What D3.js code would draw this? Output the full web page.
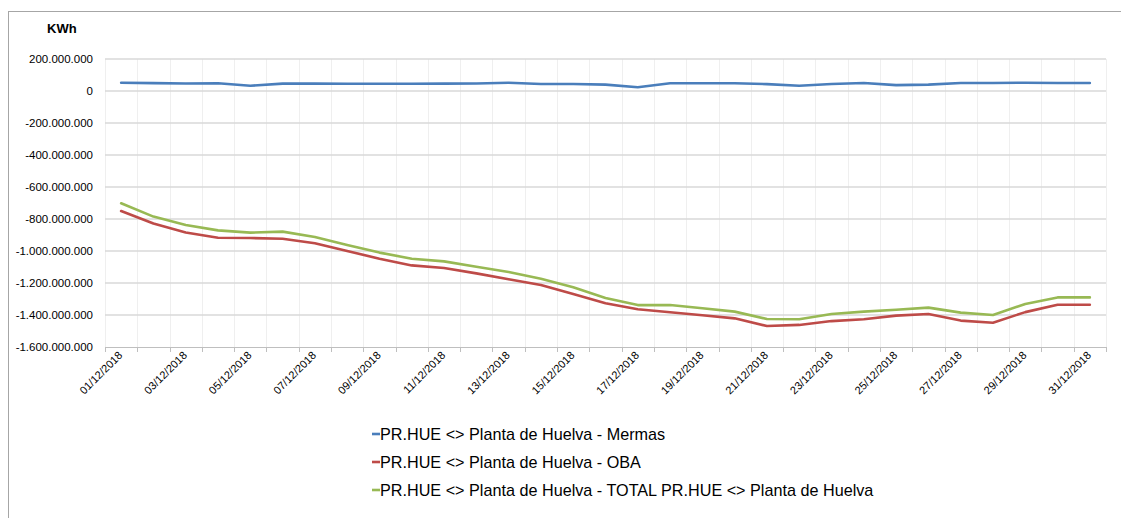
<!DOCTYPE html>
<html><head><meta charset="utf-8">
<script src="https://cdn.jsdelivr.net/npm/d3@7"></script>
<style>body{margin:0;background:#fff;} svg{display:block;font-family:"Liberation Sans",Arial,sans-serif;}</style>
</head><body>
<script>
const days = d3.range(1, 32).map(d => String(d).padStart(2, "0") + "/12/2018");
const mermas = [52e6,49e6,47e6,48e6,33e6,46e6,46e6,45e6,45e6,45e6,46e6,47e6,52e6,44e6,44e6,40e6,23e6,48e6,48e6,48e6,43e6,33e6,44e6,50e6,37e6,40e6,50e6,50e6,52e6,50e6,50e6];
const oba = [-750e6,-828e6,-884e6,-917e6,-919e6,-923e6,-952e6,-1000e6,-1048e6,-1090e6,-1106e6,-1140e6,-1177e6,-1213e6,-1269e6,-1327e6,-1364e6,-1383e6,-1402e6,-1421e6,-1469e6,-1462e6,-1438e6,-1427e6,-1404e6,-1394e6,-1435e6,-1448e6,-1382e6,-1336e6,-1336e6];
const total = [-702e6,-785e6,-838e6,-871e6,-885e6,-879e6,-913e6,-962e6,-1010e6,-1048e6,-1065e6,-1098e6,-1131e6,-1173e6,-1227e6,-1294e6,-1338e6,-1338e6,-1358e6,-1379e6,-1425e6,-1427e6,-1394e6,-1379e6,-1367e6,-1354e6,-1385e6,-1400e6,-1331e6,-1290e6,-1290e6];
const yTicks = [200e6,0,-200e6,-400e6,-600e6,-800e6,-1000e6,-1200e6,-1400e6,-1600e6];
const seriesNames = ["PR.HUE <> Planta de Huelva - Mermas","PR.HUE <> Planta de Huelva - OBA","PR.HUE <> Planta de Huelva - TOTAL PR.HUE <> Planta de Huelva"];
const colors = ["#4a7ebb","#be4b48","#98b954"];
const series = [mermas, oba, total];

const W = 1121, H = 518;
const svg = d3.select("body").append("svg").attr("width", W).attr("height", H);
svg.append("rect").attr("x", 8.5).attr("y", 11.5).attr("width", W).attr("height", H)
  .attr("fill", "none").attr("stroke", "#a6a6a6").attr("stroke-width", 1);

const x = d3.scaleBand().domain(days).range([105, 1106]);
const y = d3.scaleLinear().domain([-1600e6, 200e6]).range([347, 59]);
const fmt = v => d3.format(",")(v).replace(/,/g, ".").replace("−", "-");

// vertical gridlines at category boundaries
const bounds = days.map(d => x(d)).concat([x.range()[1]]);
svg.append("g").selectAll("line").data(bounds).join("line")
  .attr("x1", d => Math.round(d) + 0.5).attr("x2", d => Math.round(d) + 0.5)
  .attr("y1", 59).attr("y2", 347).attr("stroke", "#efefef").attr("stroke-width", 1);

// horizontal gridlines
svg.append("g").selectAll("line").data(yTicks.filter(v => v > -1600e6)).join("line")
  .attr("x1", 105).attr("x2", 1106).attr("y1", d => y(d)).attr("y2", d => y(d))
  .attr("stroke", "#d9d9d9").attr("stroke-width", 1.5);

// y axis labels
const ya = svg.append("g").attr("transform", "translate(105,0)")
  .call(d3.axisLeft(y).tickValues(yTicks).tickFormat(fmt).tickSize(0).tickPadding(12));
ya.select(".domain").remove();
ya.selectAll("text").attr("font-size", "11.5px").attr("fill", "#000").attr("font-family", "Liberation Sans, Arial, sans-serif");

// x axis line and ticks
svg.append("line").attr("x1", 105).attr("x2", 1106).attr("y1", 347.5).attr("y2", 347.5)
  .attr("stroke", "#bfbfbf").attr("stroke-width", 1.2);
svg.append("g").selectAll("line").data(bounds).join("line")
  .attr("x1", d => Math.round(d) + 0.5).attr("x2", d => Math.round(d) + 0.5)
  .attr("y1", 347).attr("y2", 352).attr("stroke", "#bfbfbf");

// x labels every other day
svg.append("g").selectAll("text").data(days.filter((d, i) => i % 2 === 0)).join("text")
  .attr("transform", d => `translate(${x(d) + x.bandwidth() / 2 + 2},${356}) rotate(-45)`)
  .attr("text-anchor", "end").attr("font-size", "11px").attr("fill", "#000").text(d => d);

// lines
const line = d3.line().x((v, i) => x(days[i]) + x.bandwidth() / 2).y(v => y(v));
svg.append("g").selectAll("path").data(series).join("path")
  .attr("d", line).attr("fill", "none").attr("stroke", (d, i) => colors[i])
  .attr("stroke-width", 2.6).attr("stroke-linejoin", "round").attr("stroke-linecap", "round");

// y unit label
svg.append("text").attr("x", 47).attr("y", 33).attr("font-weight", "bold").attr("font-size", "13px").text("KWh");

// legend
const lg = svg.append("g").selectAll("g").data(seriesNames).join("g")
  .attr("transform", (d, i) => `translate(372,${434 + i * 28})`);
lg.append("line").attr("x1", 0).attr("x2", 8).attr("y1", 0).attr("y2", 0)
  .attr("stroke", (d, i) => colors[i]).attr("stroke-width", 2.6);
lg.append("text").attr("x", 8).attr("y", 5.5).attr("font-size", "16.2px").attr("fill", "#000").text(d => d);
</script>
</body></html>
